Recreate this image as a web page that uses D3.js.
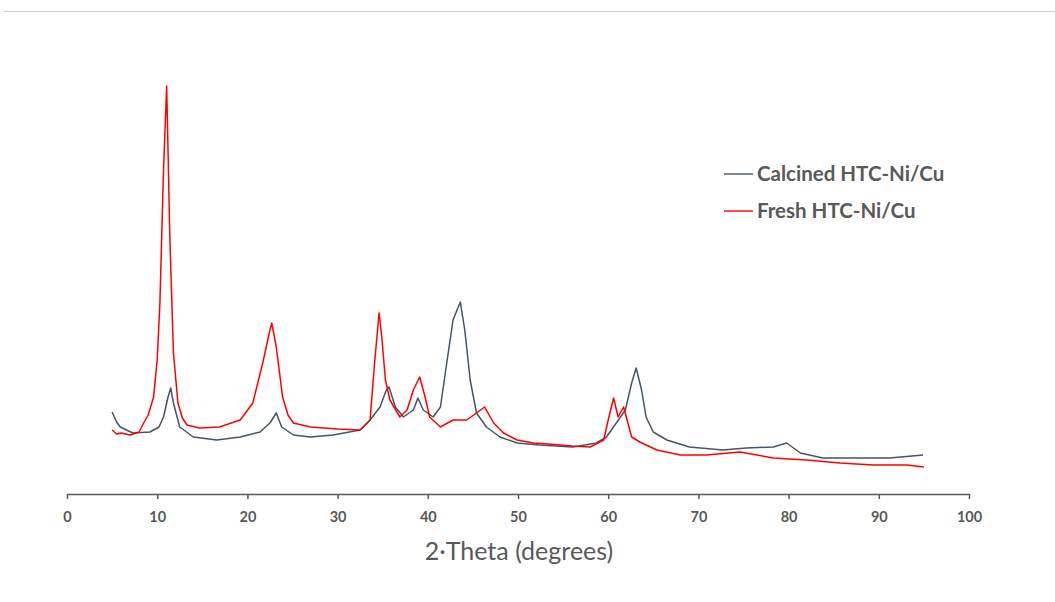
<!DOCTYPE html>
<html lang="en">
<head>
<meta charset="UTF-8">
<title>XRD HTC-Ni/Cu</title>
<script src="https://cdn.jsdelivr.net/npm/d3@7"></script>
<style>
  body { margin: 0; background: #fff; }
  svg text { font-family: Lato, "Open Sans", sans-serif; fill: #595959; }
</style>
</head>
<body>
<div id="chart"></div>
<script>
// 2-theta (deg) and intensity (a.u.)
const calcinedAngle = [5.0, 5.5, 5.9, 7.3, 9.2, 10.2, 10.7, 11.2, 11.5, 11.8, 12.5, 14.0, 16.6, 19.2, 21.4, 22.5, 23.2, 23.8, 25.1, 27.0,
  29.5, 32.5, 33.6, 34.7, 35.4, 35.7, 36.4, 37.3, 38.4, 38.9, 39.5, 40.6, 41.4, 42.1, 42.8, 43.6, 44.1, 44.7, 45.4, 46.5,
  48.0, 49.9, 52.4, 56.1, 58.7, 59.8, 60.9, 61.9, 62.6, 63.1, 63.7, 64.2, 65.0, 66.5, 69.0, 72.7, 75.3, 78.3, 79.8, 81.3,
  83.8, 87.5, 91.2, 94.9];
const calcinedIntensity = [82, 72, 67, 61, 62, 67, 77, 97, 106, 91, 67, 57, 54, 57, 62, 71, 81, 67, 59, 57,
  59, 64, 74, 87, 104, 107, 87, 77, 84, 96, 84, 77, 87, 131, 174, 192, 164, 114, 81, 67,
  57, 51, 49, 47, 51, 57, 71, 84, 111, 126, 104, 77, 62, 54, 47, 44, 46, 47, 51, 41,
  36, 36, 36, 39];

const freshAngle = [5.0, 5.5, 6.0, 7.0, 8.0, 8.5, 9.0, 9.6, 10.0, 10.3, 10.7, 11.05, 11.4, 11.8, 12.3, 12.8, 13.3, 14.7, 16.9, 19.2,
  20.6, 21.7, 22.5, 22.7, 23.2, 23.9, 24.5, 25.1, 27.0, 30.0, 32.5, 33.6, 34.1, 34.6, 34.9, 35.3, 35.8, 36.9, 37.7, 38.4,
  39.1, 39.7, 40.2, 41.4, 42.8, 44.3, 45.4, 46.3, 47.3, 48.4, 49.9, 51.7, 53.4, 56.0, 58.0, 59.5, 60.0, 60.6, 61.1, 61.7,
  62.1, 62.6, 63.5, 65.4, 68.0, 70.9, 74.6, 78.3, 82.0, 85.7, 89.4, 93.1, 95.0];
const freshIntensity = [64, 60, 61, 59, 62, 71, 79, 97, 134, 191, 324, 408, 257, 141, 91, 76, 69, 66, 67, 74,
  91, 131, 164, 171, 147, 97, 79, 71, 67, 65, 64, 74, 131, 181, 157, 114, 94, 77, 84, 104,
  117, 97, 77, 67, 74, 74, 81, 87, 71, 61, 54, 51, 50, 48, 47, 54, 74, 96, 77, 87,
  74, 57, 52, 44, 39, 39, 42, 36, 34, 31, 29, 29, 27];

const seriesNames = ["Calcined HTC-Ni/Cu", "Fresh HTC-Ni/Cu"];
const seriesColors = ["#44546A", "#FF0000"];
const xTicks = [0, 10, 20, 30, 40, 50, 60, 70, 80, 90, 100];

const width = 1055, height = 602;
const margin = {left: 67, right: 86, top: 74, bottom: 108};

const svg = d3.select("#chart").append("svg")
    .attr("width", width)
    .attr("height", height);

// thin rule along the top
svg.append("line")
    .attr("x1", 4).attr("x2", width)
    .attr("y1", 11.5).attr("y2", 11.5)
    .attr("stroke", "#d0d0d0")
    .attr("stroke-width", 1);

const x = d3.scaleLinear().domain([0, 100]).range([margin.left, width - margin.right]);
const y = d3.scaleLinear().domain([0, 420]).range([height - margin.bottom, margin.top]);

const series = [
    {name: seriesNames[0], color: seriesColors[0], values: calcinedAngle.map((a, i) => [a, calcinedIntensity[i]])},
    {name: seriesNames[1], color: seriesColors[1], values: freshAngle.map((a, i) => [a, freshIntensity[i]])}
];

const line = d3.line()
    .x(d => x(d[0]))
    .y(d => y(d[1]));

svg.selectAll("path.series")
    .data(series)
    .join("path")
    .attr("class", "series")
    .attr("fill", "none")
    .attr("stroke", d => d.color)
    .attr("stroke-width", 1.5)
    .attr("stroke-linejoin", "round")
    .attr("d", d => line(d.values));

// x axis
const xAxis = svg.append("g")
    .attr("transform", `translate(0,${height - margin.bottom})`)
    .call(d3.axisBottom(x).tickValues(xTicks).tickSize(5).tickSizeOuter(0));

xAxis.select(".domain").attr("stroke", "#595959").attr("stroke-width", 1.5);
xAxis.selectAll(".tick line").attr("stroke", "#595959").attr("stroke-width", 1.5);
xAxis.selectAll(".tick text")
    .attr("y", 28)
    .attr("dy", 0)
    .attr("font-size", 14.5)
    .attr("font-weight", "bold")
    .attr("fill", "#595959");

svg.append("text")
    .attr("x", x(50) + 1)
    .attr("y", 560)
    .attr("text-anchor", "middle")
    .attr("font-size", 25)
    .text("2\u00b7Theta (degrees)");

// legend
const legend = svg.append("g").attr("transform", "translate(724,174)");
const item = legend.selectAll("g")
    .data(series)
    .join("g")
    .attr("transform", (d, i) => `translate(0,${i * 37})`);

item.append("line")
    .attr("x1", 0).attr("x2", 29)
    .attr("stroke", d => d.color)
    .attr("stroke-width", 1.4);

item.append("text")
    .attr("x", 33)
    .attr("y", 7)
    .attr("font-size", 20.5)
    .attr("font-weight", "bold")
    .text(d => d.name);
</script>
</body>
</html>
